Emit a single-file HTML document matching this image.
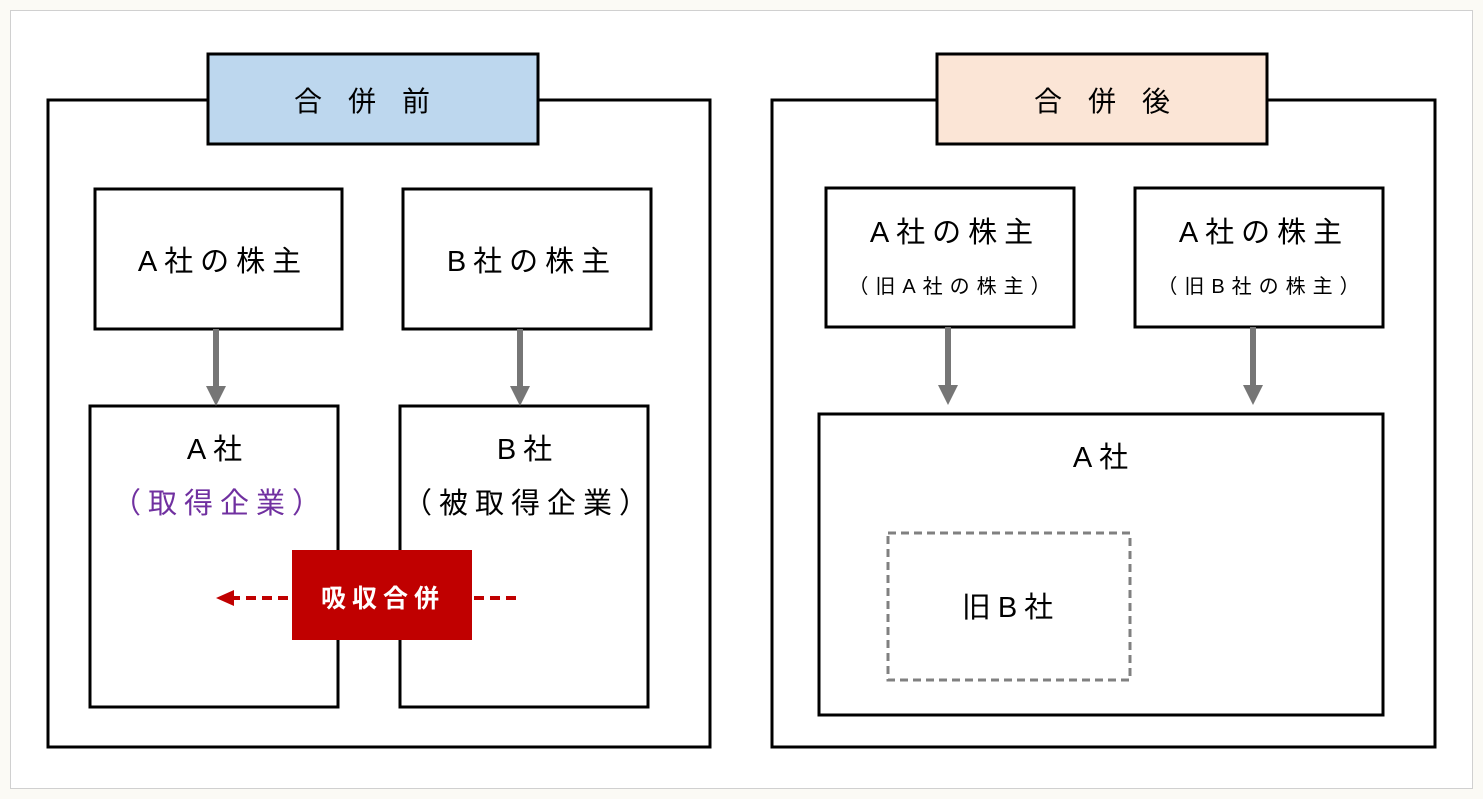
<!DOCTYPE html>
<html><head><meta charset="utf-8"><style>
body{margin:0;background:#fbfaf5;}
svg{display:block;font-family:"Liberation Sans","Noto Sans CJK JP",sans-serif;}
</style></head><body>
<svg width="1483" height="799" viewBox="0 0 1483 799">
<rect x="10.5" y="10.5" width="1462" height="778" fill="#fff" stroke="#d0d0d0" stroke-width="1"/>
<g fill="none" stroke="#000" stroke-width="3">
<rect x="48" y="100" width="662" height="647"/>
<rect x="772" y="100" width="663" height="647"/>
<rect x="95" y="189" width="247" height="140"/>
<rect x="403" y="189" width="248" height="140"/>
<rect x="90" y="406" width="248" height="301"/>
<rect x="400" y="406" width="248" height="301"/>
<rect x="826" y="188" width="248" height="139"/>
<rect x="1135" y="188" width="248" height="139"/>
<rect x="819" y="414" width="564" height="301"/>
</g>
<rect x="208" y="54" width="330" height="90" fill="#bdd7ee" stroke="#000" stroke-width="3"/>
<rect x="937" y="54" width="330" height="90" fill="#fbe5d6" stroke="#000" stroke-width="3"/>
<rect x="888" y="533" width="242" height="147" fill="none" stroke="#808080" stroke-width="3" stroke-dasharray="8,5"/>
<g stroke="#767676" stroke-width="6">
<line x1="216" y1="329" x2="216" y2="390"/><line x1="520" y1="329" x2="520" y2="390"/>
<line x1="948" y1="327" x2="948" y2="389"/><line x1="1253" y1="327" x2="1253" y2="389"/>
</g>
<g fill="#767676">
<polygon points="206,386 226,386 216,406"/><polygon points="510,386 530,386 520,406"/>
<polygon points="938,385 958,385 948,405"/><polygon points="1243,385 1263,385 1253,405"/>
</g>
<line x1="230" y1="598" x2="292" y2="598" stroke="#c00000" stroke-width="4" stroke-dasharray="10,6"/>
<line x1="474" y1="598" x2="522" y2="598" stroke="#c00000" stroke-width="4" stroke-dasharray="10,6"/>
<polygon points="216,598 234,590 234,606" fill="#c00000"/>
<rect x="292" y="550" width="180" height="90" fill="#c00000"/>
<g text-anchor="middle" font-size="29" fill="#000" letter-spacing="7">
<text x="375" y="111" font-size="28" letter-spacing="26">合併前</text>
<text x="1115" y="111" font-size="28" letter-spacing="26">合併後</text>
<text x="223" y="271">A社の株主</text>
<text x="532" y="271">B社の株主</text>
<text x="218" y="459">A社</text>
<text x="528" y="459">B社</text>
<text x="220" y="513" fill="#7030a0">（取得企業）</text>
<text x="529" y="513">（被取得企業）</text>
<text x="955" y="242">A社の株主</text>
<text x="1264" y="242">A社の株主</text>
<text x="1104" y="467">A社</text>
<text x="1011" y="617">旧B社</text>
<text x="383" y="607" fill="#fff" font-size="25" font-weight="bold" letter-spacing="6">吸収合併</text>
<text x="953" y="293" font-size="20" letter-spacing="7">（旧A社の株主）</text>
<text x="1262" y="293" font-size="20" letter-spacing="7">（旧B社の株主）</text>
</g>
</svg>
</body></html>
